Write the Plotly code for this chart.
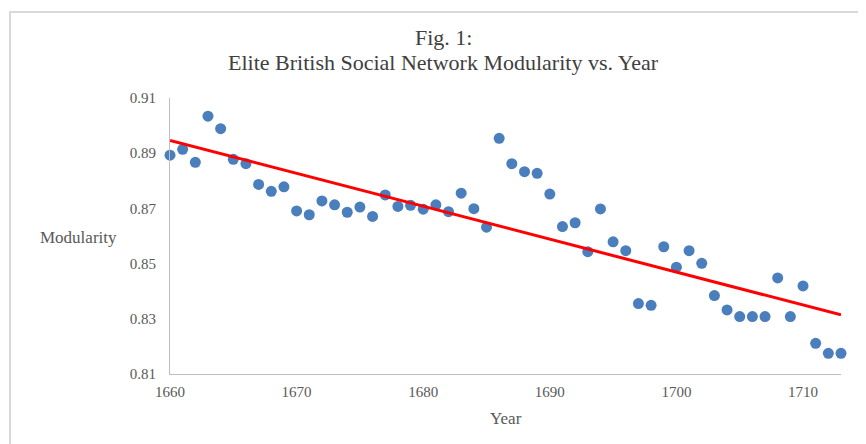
import numpy as np
import plotly.graph_objects as go

years = list(range(1660, 1714))
modularity = [
    0.8893, 0.8914, 0.8867, 0.9034, 0.8989, 0.8878, 0.8862, 0.8787, 0.8762, 0.8778,
    0.8691, 0.8677, 0.8727, 0.8713, 0.8686, 0.8705, 0.8671, 0.8749, 0.8707, 0.8711,
    0.8697, 0.8713, 0.8688, 0.8755, 0.8699, 0.8632, 0.8954, 0.8862, 0.8833, 0.8827,
    0.8752, 0.8634, 0.8648, 0.8543, 0.8698, 0.8579, 0.8547, 0.8355, 0.8349, 0.8561,
    0.8487, 0.8547, 0.8501, 0.8384, 0.8332, 0.8308, 0.8308, 0.8308, 0.8448, 0.8308,
    0.8419, 0.8211, 0.8175, 0.8175,
]
x_ticks = [1660, 1670, 1680, 1690, 1700, 1710]
y_ticks = [0.81, 0.83, 0.85, 0.87, 0.89, 0.91]
y_tick_text = ["0.81", "0.83", "0.85", "0.87", "0.89", "0.91"]

slope, intercept = np.polyfit(years, modularity, 1)
trend_x = [years[0], years[-1]]
trend_y = [slope * x + intercept for x in trend_x]

FONT = "Liberation Serif"
TXT = "#595959"

fig = go.Figure()
fig.add_trace(go.Scatter(
    x=years, y=modularity, mode="markers",
    marker=dict(color="#4a7ebd", size=11),
    cliponaxis=False, showlegend=False,
))
fig.add_trace(go.Scatter(
    x=trend_x, y=trend_y, mode="lines",
    line=dict(color="#ff0000", width=3),
    cliponaxis=False, showlegend=False,
))

fig.update_layout(
    width=866, height=444,
    margin=dict(l=162, r=33, t=90, b=78),
    paper_bgcolor="white", plot_bgcolor="white",
    font=dict(family=FONT, color=TXT, size=15),
    xaxis=dict(
        range=[1660, 1713], tickvals=x_ticks, ticktext=[str(v) for v in x_ticks],
        showgrid=False, zeroline=False, showline=True, linecolor="#bfbfbf", linewidth=1,
        ticks="outside", ticklen=4, tickcolor="rgba(0,0,0,0)",
        tickfont=dict(family=FONT, size=15, color=TXT),
    ),
    yaxis=dict(
        range=[0.81, 0.91], tickvals=y_ticks, ticktext=y_tick_text,
        showgrid=False, zeroline=False, showline=True, linecolor="#bfbfbf", linewidth=1,
        ticks="outside", ticklen=10, tickcolor="rgba(0,0,0,0)",
        tickfont=dict(family=FONT, size=15, color=TXT),
    ),
    shapes=[dict(
        type="rect", xref="paper", yref="paper",
        x0=-0.2385, x1=1.08, y0=-0.33, y1=1.3116,
        line=dict(color="#d9d9d9", width=2), fillcolor="rgba(0,0,0,0)", layer="below",
    )],
    annotations=[
        dict(text="Fig. 1:", xref="paper", yref="paper", x=0.4075, y=1.2210,
             xanchor="center", yanchor="middle", showarrow=False,
             font=dict(family=FONT, size=22, color="#404040")),
        dict(text="Elite British Social Network Modularity vs. Year", xref="paper", yref="paper",
             x=0.4075, y=1.1304, xanchor="center", yanchor="middle", showarrow=False,
             font=dict(family=FONT, size=22, color="#404040")),
        dict(text="Modularity", xref="paper", yref="paper", x=-0.1371, y=0.4928,
             xanchor="center", yanchor="middle", showarrow=False,
             font=dict(family=FONT, size=17, color=TXT)),
        dict(text="Year", xref="paper", yref="paper", x=0.5, y=-0.163,
             xanchor="center", yanchor="middle", showarrow=False,
             font=dict(family=FONT, size=17, color=TXT)),
    ],
)

fig.write_html("out.html")
